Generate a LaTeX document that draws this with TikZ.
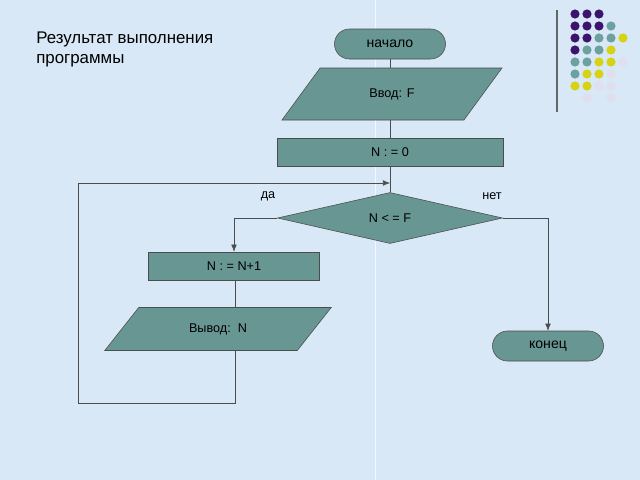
\documentclass[tikz,border=0pt]{standalone}
\usepackage{fontspec}
\setmainfont{Liberation Sans}
\usetikzlibrary{shapes.geometric,arrows.meta}
\definecolor{bgblue}{RGB}{216,232,246}
\definecolor{boxteal}{RGB}{104,150,146}
\definecolor{dotP}{RGB}{60,20,110}
\definecolor{dotT}{RGB}{110,160,160}
\definecolor{dotY}{RGB}{215,210,20}
\definecolor{dotL}{RGB}{225,222,238}
\tikzset{
  box/.style={draw=black!70,fill=boxteal,minimum height=28*0.025cm,font=\small},
  term/.style={draw=black!70,fill=boxteal,rounded corners=15*0.025cm,minimum height=30*0.025cm,minimum width=111*0.025cm},
  iobox/.style={draw=black!70,fill=boxteal,trapezium,trapezium left angle=55,trapezium right angle=125,trapezium stretches=true,font=\small},
  decide/.style={draw=black!70,fill=boxteal,diamond,aspect=4.4,minimum width=225*0.025cm,minimum height=51*0.025cm,inner sep=0pt,font=\small},
  line/.style={black!70,thin},
  arr/.style={line,-{Latex[length=5pt,width=4pt]}}
}
\begin{document}
\begin{tikzpicture}[x=0.025cm,y=-0.025cm]
\fill[bgblue] (0,0) rectangle (640,480);
\useasboundingbox (0,0) rectangle (640,480);
\draw[white,opacity=0.7] (375,0) -- (375,480);
% dots in the corner
\draw[black!60,thick] (557,10) -- (557,112);
\foreach \row/\cols in {0/{P,P,P},1/{P,P,P,T},2/{P,P,T,T,Y},3/{P,T,T,Y},4/{T,T,Y,Y,L},5/{T,Y,Y,L},6/{Y,Y,L,L}} {
  \foreach \c [count=\i from 0] in \cols {
    \fill[dot\c] (575+12*\i,14+12*\row) circle (4.6);
  }
}
\fill[dotL] (587,98) circle (4.6);
\fill[dotL] (611,98) circle (4.6);
\node[anchor=north west,align=left,font=\large,inner sep=0pt] (title) at (36,32) {Результат выполнения\\программы};
% flowchart
\node[term] (start) at (390,44) {начало};
\node[iobox,minimum width=221*0.025cm,minimum height=52*0.025cm] (input) at (392,94) {Ввод: F};
\node[box,minimum width=226*0.025cm] (init) at (390,152) {N : = 0};
\node[decide] (cond) at (390,218) {N < = F};
\node[box,minimum width=171*0.025cm] (incr) at (234,266) {N : = N+1};
\node[iobox,minimum width=227*0.025cm,minimum height=43*0.025cm] (output) at (218,329) {Вывод:\ \ N};
\node[term] (stop) at (548,346) {конец};
\node (yes) at (268,196) {\small да};
\node (no) at (492,196) {\small нет};
\coordinate (back) at (235,403);
\coordinate (left) at (78,403);
\coordinate (up) at (78,183);
\coordinate (join) at (390,183);
\draw[line] (start.south) -- (start.south |- input.north);
\draw[line] (start.south |- input.south) -- (init.north);
\draw[line] (init) -- (cond);
\draw[arr] (cond.west) -| (incr.north);
\draw[line] (incr.south -| back) -- (output.north -| back);
\draw[arr] (output.south -| back) -- (back) -- (left) -- (up) -- (join);
\draw[arr] (cond.east) -| (stop.north);
\end{tikzpicture}
\end{document}
